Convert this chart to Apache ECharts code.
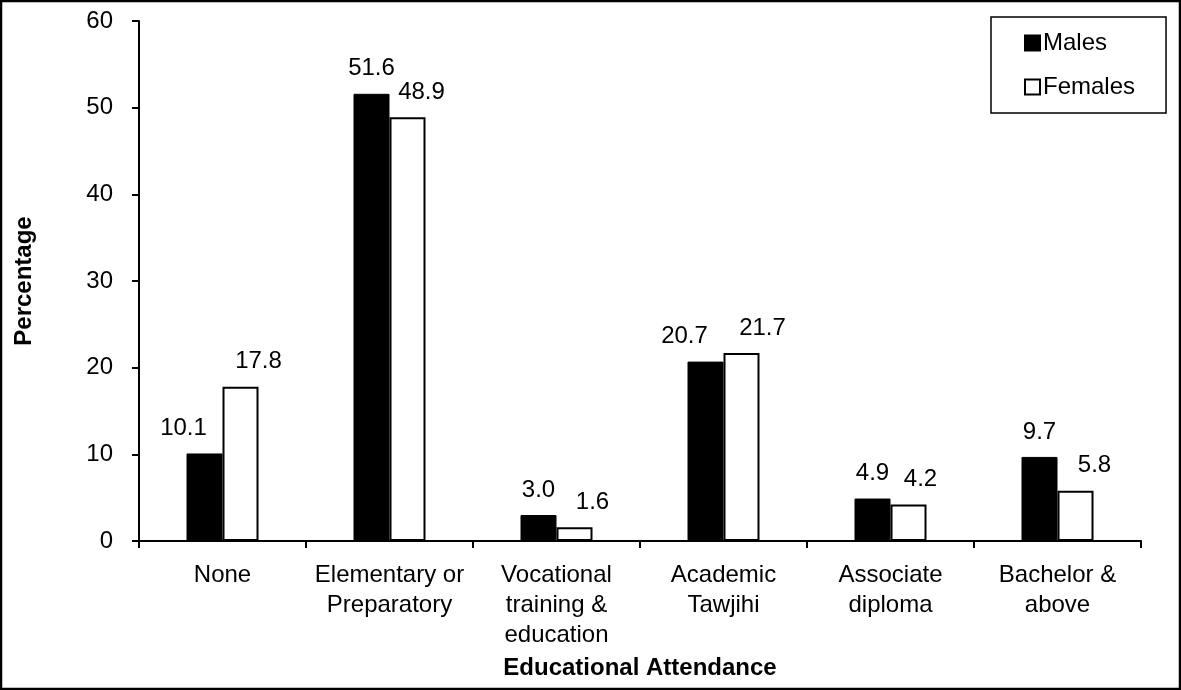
<!DOCTYPE html>
<html>
<head>
<meta charset="utf-8">
<script src="https://cdn.jsdelivr.net/npm/echarts@6/dist/echarts.min.js"></script>
<style>
html,body{margin:0;padding:0;background:#fff;}
#chart{width:1181px;height:690px;}
</style>
</head>
<body>
<div id="chart"></div>
<script>
const categories = ["None", "Elementary or\nPreparatory", "Vocational\ntraining &\neducation", "Academic\nTawjihi", "Associate\ndiploma", "Bachelor &\nabove"];
const males = [10.1, 51.6, 3.0, 20.7, 4.9, 9.7];
const females = [17.8, 48.9, 1.6, 21.7, 4.2, 5.8];
const seriesNames = ["Males", "Females"];
const yTicks = { min: 0, max: 60, interval: 10 };

// horizontal nudges of the value labels (style only)
const maleLabelDx = [-21, 0, 0, -21, 0, 0];
const femaleLabelDx = [18, 14, 18, 21, 12, 19];

const FONT = "'Liberation Sans', Arial, sans-serif";
const FS = 24;

function build(values, dx) {
  return values.map((v, i) => ({ value: v, label: { offset: [dx[i], 0] } }));
}

const chart = echarts.init(document.getElementById('chart'), null, { renderer: 'canvas' });
chart.setOption({
  animation: false,
  backgroundColor: '#fff',
  textStyle: { fontFamily: FONT, color: '#000' },
  grid: { left: 139, right: 40, top: 21, bottom: 149, containLabel: false },
  legend: {
    orient: 'vertical',
    left: 991,
    top: 17,
    padding: [14, 31, 14, 33],
    itemGap: 20,
    itemWidth: 15,
    itemHeight: 15,
    icon: 'rect',
    borderColor: '#000',
    borderWidth: 1.5,
    backgroundColor: '#fff',
    textStyle: { fontFamily: FONT, fontSize: FS, color: '#000', padding: [0, 0, 0, -2] },
    data: seriesNames
  },
  xAxis: {
    type: 'category',
    data: categories,
    name: 'Educational Attendance',
    nameLocation: 'middle',
    nameGap: 115,
    nameTextStyle: { fontFamily: FONT, fontSize: FS, fontWeight: 'bold', color: '#000' },
    axisLine: { lineStyle: { color: '#000', width: 2 } },
    axisTick: { show: true, length: 7, lineStyle: { color: '#000', width: 2 } },
    axisLabel: { fontFamily: FONT, fontSize: FS, color: '#000', lineHeight: 30, margin: 19, interval: 0 },
    splitLine: { show: false }
  },
  yAxis: {
    type: 'value',
    min: yTicks.min,
    max: yTicks.max,
    interval: yTicks.interval,
    name: 'Percentage',
    nameLocation: 'middle',
    nameGap: 103,
    nameTextStyle: { fontFamily: FONT, fontSize: FS, fontWeight: 'bold', color: '#000' },
    axisLine: { show: true, lineStyle: { color: '#000', width: 2 } },
    axisTick: { show: true, length: 7, lineStyle: { color: '#000', width: 2 } },
    axisLabel: { fontFamily: FONT, fontSize: FS, color: '#000', margin: 26 },
    splitLine: { show: false }
  },
  series: [
    {
      name: seriesNames[0],
      type: 'bar',
      barWidth: 36,
      barGap: '0%',
      itemStyle: { color: '#000', borderColor: '#000', borderWidth: 1 },
      label: {
        show: true, position: 'top', distance: 13,
        fontFamily: FONT, fontSize: FS, color: '#000',
        formatter: p => Number(p.value).toFixed(1)
      },
      data: build(males, maleLabelDx)
    },
    {
      name: seriesNames[1],
      type: 'bar',
      barWidth: 36,
      barGap: '0%',
      itemStyle: { color: '#fff', borderColor: '#000', borderWidth: 2 },
      label: {
        show: true, position: 'top', distance: 13,
        fontFamily: FONT, fontSize: FS, color: '#000',
        formatter: p => Number(p.value).toFixed(1)
      },
      data: build(females, femaleLabelDx)
    }
  ],
  graphic: [{
    type: 'rect',
    silent: true,
    z: 100,
    shape: { x: 1, y: 1, width: 1179, height: 688 },
    style: { fill: null, stroke: '#000', lineWidth: 2.5 }
  }]
});
</script>
</body>
</html>
